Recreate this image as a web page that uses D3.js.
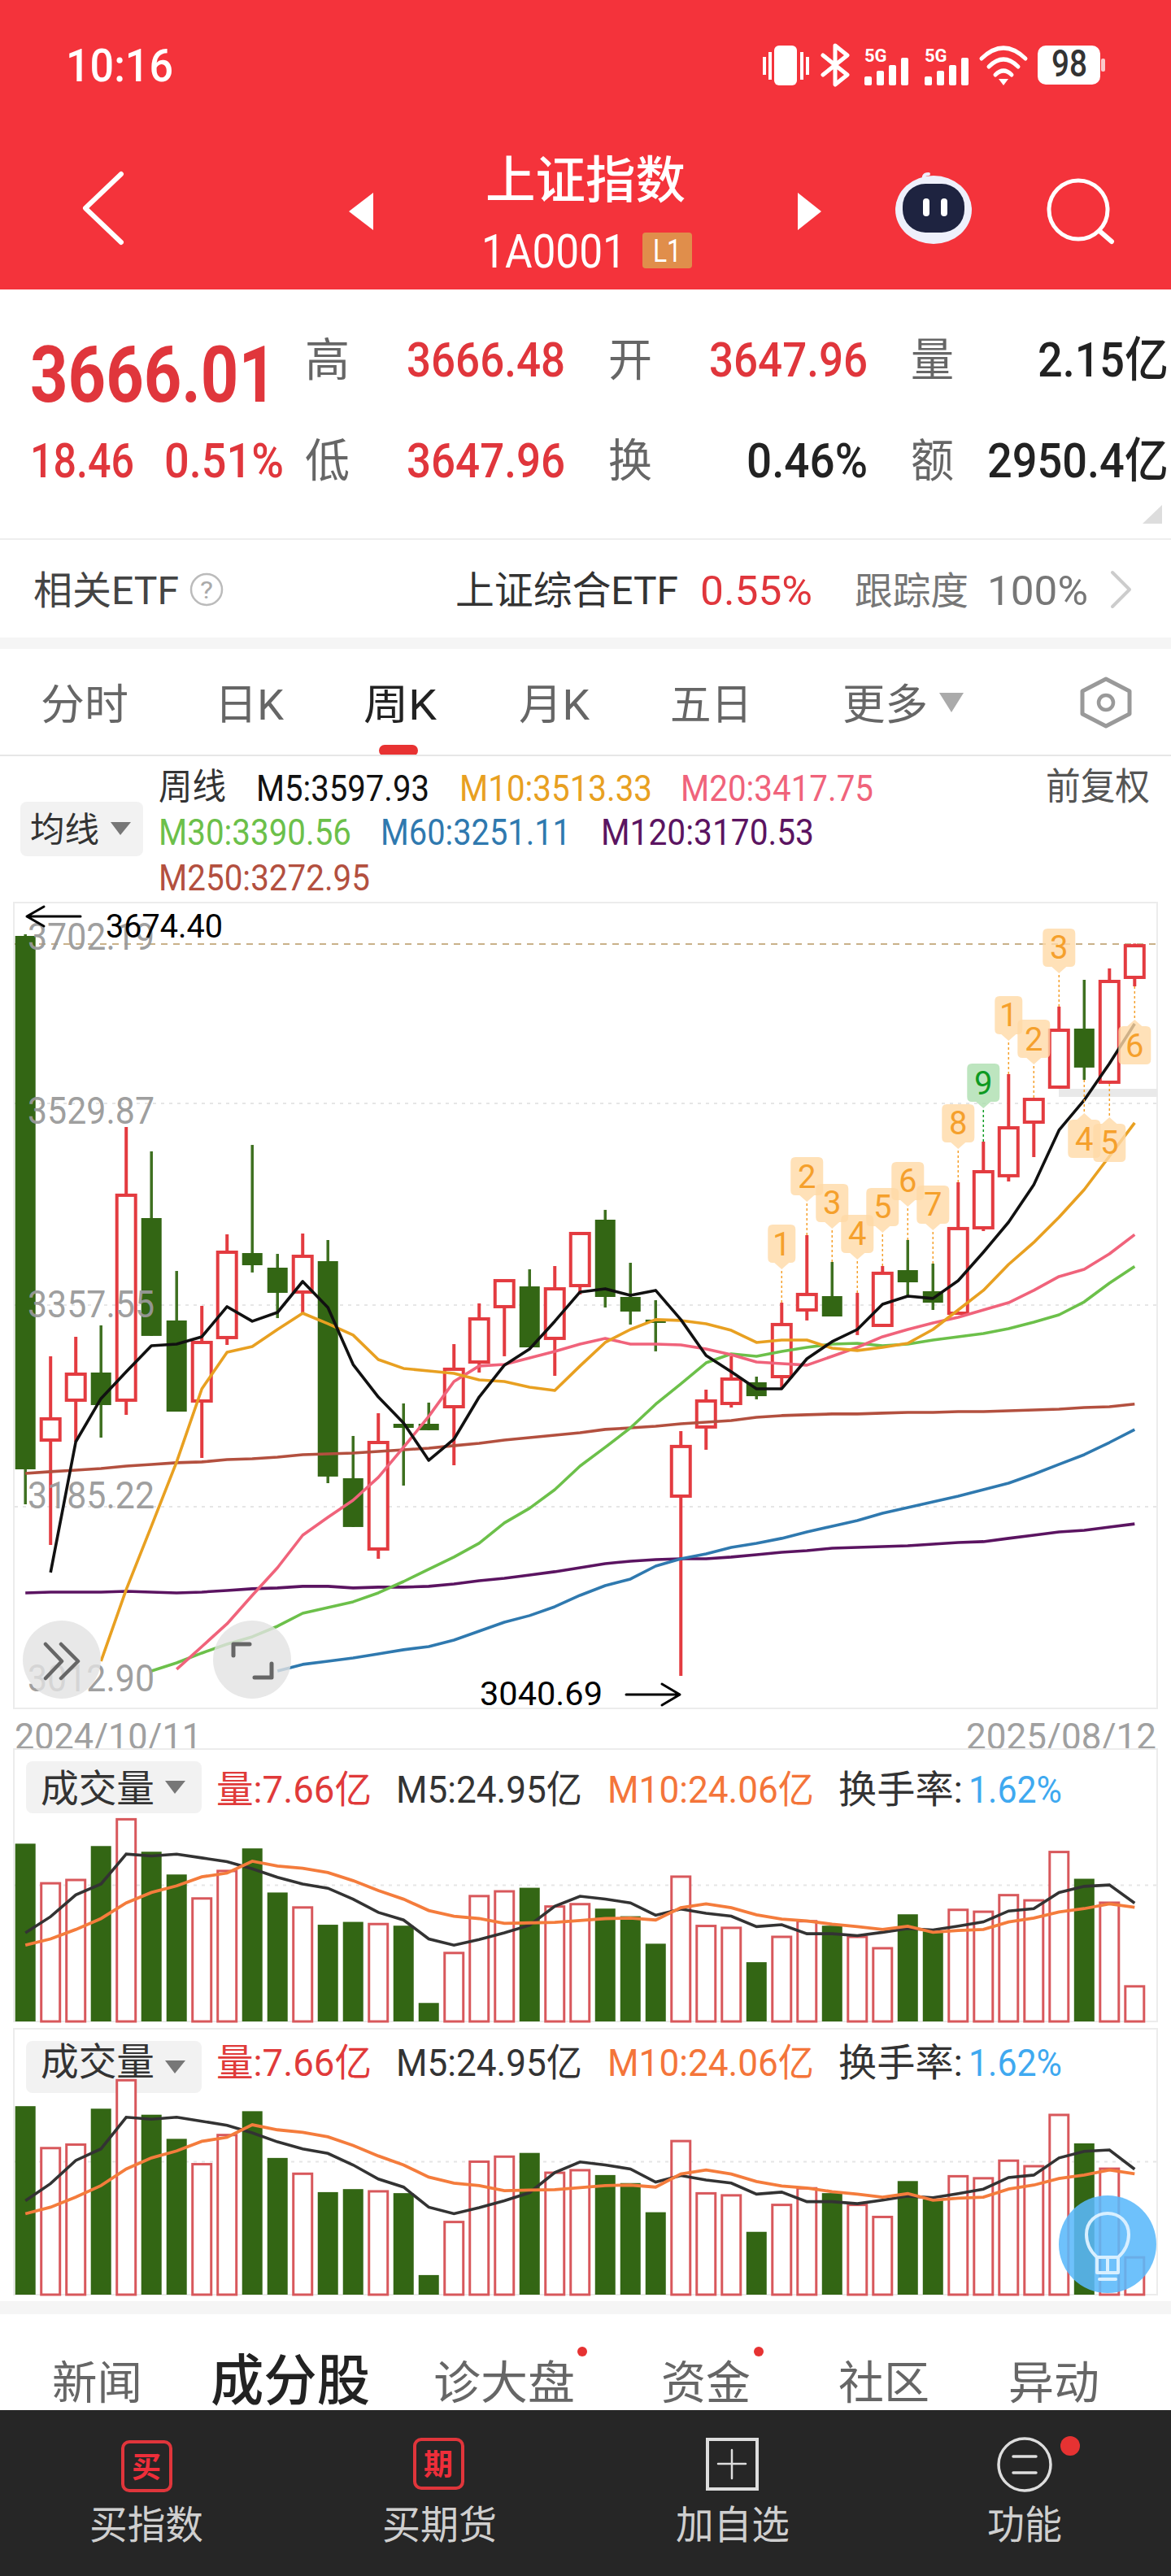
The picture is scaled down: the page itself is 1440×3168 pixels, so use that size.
<!DOCTYPE html>
<html>
<head>
<meta charset="utf-8">
<style>
  html, body { margin: 0; padding: 0; background: #fff; }
  svg { display: block; }
  text { font-family: Roboto, "Noto Sans CJK SC", sans-serif; }
</style>
<script src="https://cdn.jsdelivr.net/npm/d3@7"></script>
</head>
<body>
<div id="chart"></div>
<script>
// Weekly candles
var opens = [3673,3240.8,3274.9,3299.9,3274.9,3431.9,3344.4,3274.2,3328.4,3402,3389.5,3367.3,3395.1,3209.6,3147.7,3256.1,3256.1,3269.3,3307.5,3354.8,3373.5,3327.7,3372.8,3430.5,3364.5,3345.1,3192.9,3252,3272.1,3291.6,3295,3352,3365.2,3345.8,3338.8,3387.4,3369.4,3349.2,3422.2,3466.7,3512.5,3542.4,3593.8,3546.6,3636.2];
var closes = [3217.2,3261.7,3299.9,3272.1,3452.8,3331.2,3266.5,3327,3404.1,3391.6,3368,3400.6,3211,3167.9,3241.5,3252.6,3250.6,3304.1,3347.1,3379.8,3321.4,3372.8,3420.1,3364.5,3352,3342.3,3238.1,3277,3295.7,3279.7,3342.3,3368,3347.8,3348.5,3386.1,3377,3359.6,3424.3,3472.9,3510.4,3534.7,3593.8,3560.5,3635.5,3666.01];
var highs = [3674.4,3313.8,3330.5,3340.2,3509.7,3488.9,3386.7,3356.9,3418,3494.4,3401.3,3418.7,3413.2,3245.7,3265.2,3273.5,3274.2,3324.2,3359,3379.8,3388.1,3390.9,3420.1,3438.9,3393.7,3361.7,3249.9,3285.3,3313.8,3296.4,3359.6,3417.3,3394.4,3368,3390.9,3413.2,3393,3462.5,3497.2,3554.9,3534.7,3612.6,3635.5,3645.2,3666.48];
var lows = [3187.3,3152.6,3240.8,3244.3,3263.8,3331.2,3266.5,3226.9,3323.5,3385.4,3346.4,3350.6,3205.4,3167.9,3140.8,3203.3,3250.6,3220.7,3299.9,3313.8,3321.4,3297.1,3366.6,3355.5,3340.9,3318,3040.69,3233.9,3270,3277,3286.7,3344.4,3347.8,3331.9,3338.8,3365.9,3353.4,3349.2,3420.8,3463.2,3484,3542.4,3550,3546.6,3629.9];

// Moving averages, leading nulls where the line is not drawn
var m5 = [null,3129,3240.8,3277.7,3300.6,3322.8,3324.2,3330.5,3356.2,3343.7,3351.3,3377.7,3355.5,3306.8,3279,3256.8,3224.9,3242.9,3279,3306.2,3320,3343.7,3368.7,3371.5,3365.9,3370.1,3345.1,3314.5,3300.6,3286,3286,3311.7,3326.3,3336.7,3358.3,3365.2,3363.2,3378.4,3402.7,3428.4,3460.4,3507,3532.7,3563.9,3597.93];
var m10 = [null,null,null,3053.2,3114.4,3168.6,3223.5,3286,3317.3,3322.1,3336.7,3350.6,3341.6,3331.9,3311,3303.4,3301.3,3299.2,3293.6,3292.2,3287.4,3284.6,3305.5,3325.6,3336.7,3345.1,3344.4,3341.6,3336,3325.6,3327.7,3327.7,3320.7,3318.7,3321.4,3324.9,3336.7,3353.4,3370.1,3392.3,3411.1,3432.6,3456.2,3484.7,3513.33];
var m20 = [null,null,null,null,null,null,3046.3,3065.7,3085.2,3109.5,3133.1,3160.9,3176.2,3190.8,3210.3,3236,3262.4,3292.2,3305.5,3306.8,3312.4,3318,3324.2,3329.1,3324.2,3324.2,3323.5,3320,3315.2,3308.9,3307.5,3306.2,3313.8,3321.4,3330.5,3336.7,3342.3,3347.1,3353.4,3359.6,3370.1,3381.9,3388.1,3401.3,3417.75];
var m30 = [null,null,null,null,null,3044.9,3051.8,3060.2,3067.8,3074.1,3083.1,3094.2,3099.1,3104,3111.6,3121.3,3131.8,3142.2,3154,3171.4,3183.9,3199.8,3220,3236,3252.6,3272.8,3290.2,3308.2,3315.9,3313.8,3318,3321.4,3324.2,3324.9,3322.8,3324.2,3327.7,3330.5,3333.2,3337.4,3343,3349.2,3360.3,3376.3,3390.56];
var m60 = [null,null,null,null,null,null,null,null,null,null,3044.9,3050.5,3053.2,3056,3059.5,3063,3065.7,3071.3,3078.9,3086.6,3092.2,3099.8,3109.5,3117.8,3123.4,3134.5,3140.8,3144.9,3150.5,3154,3158.2,3163.7,3168.6,3173.4,3179.7,3184.6,3189.4,3194.3,3199.8,3205.4,3213,3221.4,3229.7,3240.1,3251.11];
var m120 = [3111.6,3112.3,3112.3,3112.3,3113,3112.3,3111.6,3112.3,3113.7,3115.1,3115.8,3117.2,3117.2,3115.8,3116.5,3116.5,3117.2,3119.2,3122,3124.1,3126.9,3129.7,3133.1,3136.6,3138.7,3140.1,3140.8,3140.8,3142.2,3144.2,3146.3,3147.7,3149.8,3150.5,3151.2,3151.9,3153.3,3154.7,3155.4,3158.2,3160.9,3163.7,3165.1,3167.9,3170.53];
var m250 = [3213.7,3215.2,3216.5,3217.9,3220,3221.4,3222.8,3223.5,3225.5,3226.2,3227.6,3229.7,3230.4,3231.1,3232.5,3233.9,3235.3,3237.4,3239.4,3242.2,3244.3,3246.4,3248.5,3251.3,3252.6,3254,3256.1,3257.5,3258.9,3261.7,3263.1,3263.8,3264.5,3264.5,3265.2,3265.8,3265.8,3266.5,3266.5,3267.2,3267.9,3268.6,3270,3270.7,3272.95];

// Volume in 亿
var volumes = [37.5,29.4,30.1,37,42.9,35.8,31,26.2,32,36.5,27.2,24.3,20.4,21,20.8,20.2,3.9,14.7,26.7,27.7,28.2,24.5,25,23.8,22.2,16.4,30.8,20.4,20,12.5,18.1,21.4,20.2,18.1,15.7,22.6,19,23.8,23.4,26.9,25.8,36,30.1,25.3,7.66];
var volM5 = [18.7,22.1,26.7,29,35.3,34.9,35.3,34.5,33.7,32.2,30.4,29,28.1,25.8,23,21.4,17.4,16.1,17.3,18.7,20.3,24.3,26.4,25.8,25,22.4,23.7,22.8,22.2,20,20.4,18.5,18.5,18.1,18.8,19.6,19.3,20.1,21,23.3,23.8,27.2,28.5,28.8,24.95];
var volM10 = [16.1,17.4,19.4,21.7,25,27.2,28.6,30.5,31.3,33.8,32.8,32.3,31.4,29.7,27.6,25.8,23.4,22.2,21.7,20.7,20.8,20.9,21.3,21.7,21.8,21.4,24,24.8,24,22.5,21.6,21.2,20.5,20,19.4,20.1,18.8,19.2,19.4,21,21.8,23.1,23.8,24.8,24.06];

// Sequence markers on the candles
var seqUp = [30,31,32,33,34,35,36,37,38,39,40,41];
var seqUpLabels = ["1","2","3","4","5","6","7","8","9","1","2","3"];
var seqDown = [42,43,44];
var seqDownLabels = ["4","5","6"];

var yTicks = [3702.19,3529.87,3357.55,3185.22,3012.90];
var yTickLabels = ["3702.19","3529.87","3357.55","3185.22","3012.90"];
var lastPrice = 3666.01;
var priceMax = 3702.19, priceMin = 3012.90;
var volMaxTop = 57.46, volMaxBottom = 52.9;
var startDate = "2024/10/11", endDate = "2025/08/12";

var RED = "#E33B40", GREEN = "#336614", HEAD = "#F4333B";
var CJK = '"Noto Sans CJK SC", sans-serif';

var svg = d3.select("#chart").append("svg").attr("width", 1440).attr("height", 3168);

// Text squeezed between two x positions, the app font is narrower than ours
function fit(g, x0, x1, base, str, size, color, weight) {
    return g.append("text")
        .attr("x", x0).attr("y", base)
        .attr("textLength", x1 - x0).attr("lengthAdjust", "spacingAndGlyphs")
        .attr("font-size", size).attr("font-weight", weight || 400)
        .attr("fill", color).text(str);
}
function rect(g, x, y, w, h, fill, r) {
    return g.append("rect").attr("x", x).attr("y", y).attr("width", w).attr("height", h)
        .attr("rx", r || 0).attr("fill", fill);
}
function path(g, d, stroke, width) {
    return g.append("path").attr("d", d).attr("fill", "none")
        .attr("stroke", stroke).attr("stroke-width", width)
        .attr("stroke-linecap", "round").attr("stroke-linejoin", "round");
}

// Make the red header
var head = svg.append("g");
rect(head, 0, 0, 1440, 356, HEAD);
fit(head, 81, 213, 100, "10:16", 56, "#fff", 500);

rect(head, 952, 56, 28, 49, "#fff", 6);
rect(head, 938, 70, 4, 22, "#fff");
rect(head, 945, 64, 4, 34, "#fff");
rect(head, 984, 64, 4, 34, "#fff");
rect(head, 991, 70, 4, 22, "#fff");
path(head, "M1012 68 L1042 92 L1027 104 L1027 56 L1042 68 L1012 92", "#fff", 5);
[[1063,"5G"],[1137,"5G"]].forEach(([x, t]) => {
    head.append("text").attr("x", x).attr("y", 76).attr("font-size", 22).attr("font-weight", 700)
        .attr("fill", "#fff").text(t);
    [0,1,2,3].forEach(k => {
        var h = [11, 18, 25, 34][k];
        rect(head, x + k * 15, 105 - h, 9, h, "#fff", 2);
    });
});
path(head, "M1207 72 Q1234 46 1261 72", "#fff", 5);
path(head, "M1216 82 Q1234 64 1252 82", "#fff", 5);
path(head, "M1224 92 Q1234 82 1244 92", "#fff", 5);
head.append("path").attr("d", "M1228 97 L1240 97 L1234 105 Z").attr("fill", "#fff");
rect(head, 1276, 56, 77, 48, "#fff", 10);
rect(head, 1354, 72, 5, 16, "#fbc9cb", 2);
fit(head, 1293, 1337, 94, "98", 46, "#333", 500);

path(head, "M149 214 L105 256 L149 298", "#fff", 6);
head.append("path").attr("d", "M459 237 L429 260 L459 283 Z").attr("fill", "#fff");
head.append("path").attr("d", "M981 237 L1010 260 L981 283 Z").attr("fill", "#fff");
fit(head, 597, 843, 244, "上证指数", 62, "#fff", 500).style("font-family", CJK);
fit(head, 592, 770, 329, "1A0001", 58, "#fff", 400);
rect(head, 790, 286, 61, 44, "#E08E4B", 4);
fit(head, 803, 838, 322, "L1", 38, "#fff", 400);

// Little robot
path(head, "M1138 226 Q1132 214 1142 214", "#eef", 4);
head.append("ellipse").attr("cx", 1148).attr("cy", 258).attr("rx", 47).attr("ry", 42).attr("fill", "#EEF0FB");
rect(head, 1110, 226, 76, 60, "#1E2340", 28);
rect(head, 1135, 244, 8, 22, "#fff", 4);
rect(head, 1157, 244, 8, 22, "#fff", 4);
head.append("circle").attr("cx", 1326).attr("cy", 258).attr("r", 36)
    .attr("fill", "none").attr("stroke", "#fff").attr("stroke-width", 5);
path(head, "M1352 284 L1367 297", "#fff", 6);

// Make the quote block
var quote = svg.append("g");
var QRED = "#E0363C", QGRAY = "#666";
fit(quote, 37, 340, 494, "3666.01", 96, QRED, 700);
fit(quote, 37, 165, 587, "18.46", 59, QRED, 500);
fit(quote, 202, 349, 587, "0.51%", 59, QRED, 500);
[[375,430,462,"高"],[748,802,462,"开"],[1120,1173,462,"量"],[375,430,586,"低"],[748,802,586,"换"],[1120,1173,586,"额"]]
    .forEach(([a, b, y, t]) => fit(quote, a, b, y, t, 56, QGRAY).style("font-family", CJK));
fit(quote, 500, 695, 463, "3666.48", 59, QRED, 500);
fit(quote, 872, 1067, 463, "3647.96", 59, QRED, 500);
fit(quote, 1276, 1437, 463, "2.15亿", 59, "#222", 500);
fit(quote, 500, 695, 587, "3647.96", 59, QRED, 500);
fit(quote, 918, 1067, 587, "0.46%", 59, "#222", 500);
fit(quote, 1214, 1437, 587, "2950.4亿", 59, "#222", 500);
quote.append("path").attr("d", "M1429 621 L1429 644 L1405 644 Z").attr("fill", "#ddd");
rect(quote, 0, 662, 1440, 2, "#eee");

// ETF row
fit(quote, 41, 220, 743, "相关ETF", 48, "#444");
quote.append("circle").attr("cx", 254).attr("cy", 725).attr("r", 19)
    .attr("fill", "none").attr("stroke", "#bbb").attr("stroke-width", 2.5);
fit(quote, 246, 262, 736, "?", 30, "#aaa");
fit(quote, 560, 834, 743, "上证综合ETF", 48, "#333");
fit(quote, 861, 999, 744, "0.55%", 50, QRED);
fit(quote, 1051, 1191, 743, "跟踪度", 47, "#777");
fit(quote, 1214, 1338, 744, "100%", 50, "#777");
path(quote, "M1368 704 L1389 725 L1368 746", "#ccc", 4);
rect(quote, 0, 784, 1440, 14, "#f5f5f5");

// Period tabs
var tabs = svg.append("g");
[[50,158,"分时","#666"],[264,349,"日K","#666"],[447,537,"周K","#222"],[638,725,"月K","#666"],[824,925,"五日","#666"],[1036,1141,"更多","#666"]]
    .forEach(([a, b, t, c]) => fit(tabs, a, b, 885, t, 52, c));
tabs.append("path").attr("d", "M1155 852 L1185 852 L1170 876 Z").attr("fill", "#aaa");
path(tabs, "M1360 835 L1389 850 L1389 878 L1360 893 L1331 878 L1331 850 Z", "#999", 5);
tabs.append("circle").attr("cx", 1360).attr("cy", 864).attr("r", 9)
    .attr("fill", "none").attr("stroke", "#999").attr("stroke-width", 4.5);
rect(tabs, 466, 916, 48, 14, "#E83232", 7);
rect(tabs, 0, 928, 1440, 2, "#e6e6e6");

// Moving average legend
var legend = svg.append("g");
fit(legend, 195, 278, 983, "周线", 44, "#333").style("font-family", CJK);
fit(legend, 315, 528, 985, "M5:" + m5[44], 45, "#111");
fit(legend, 565, 802, 985, "M10:" + m10[44], 45, "#E8A021");
fit(legend, 837, 1074, 985, "M20:" + m20[44], 45, "#F0637B");
fit(legend, 1286, 1414, 983, "前复权", 46, "#555").style("font-family", CJK);
fit(legend, 195, 432, 1039, "M30:" + m30[44], 45, "#6CC04A");
fit(legend, 468, 702, 1039, "M60:" + m60[44], 45, "#2F79AF");
fit(legend, 739, 1001, 1039, "M120:" + m120[44], 45, "#5B1461");
fit(legend, 195, 455, 1095, "M250:" + m250[44], 45, "#B3503F");
rect(legend, 25, 986, 151, 67, "#f2f2f2", 8);
fit(legend, 37, 122, 1035, "均线", 42, "#333").style("font-family", CJK);
legend.append("path").attr("d", "M136 1011 L161 1011 L148 1027 Z").attr("fill", "#777");

// Scales for the price panel
var x = d3.scalePoint().domain(d3.range(opens.length)).range([31.2, 1395.3]);
var y = d3.scaleLinear().domain([priceMin, priceMax]).range([2101, 1109]);

// Make the price frame and grid
var grid = svg.append("g");
grid.append("rect").attr("x", 17).attr("y", 1110).attr("width", 1406).attr("height", 991)
    .attr("fill", "#fff").attr("stroke", "#ececec").attr("stroke-width", 2);
yTicks.slice(1, 4).forEach(t => {
    grid.append("line").attr("x1", 18).attr("x2", 1422).attr("y1", y(t)).attr("y2", y(t))
        .attr("stroke", "#e6e6e6").attr("stroke-width", 2).attr("stroke-dasharray", "4 6");
});
grid.append("line").attr("x1", 18).attr("x2", 1422).attr("y1", y(lastPrice)).attr("y2", y(lastPrice))
    .attr("stroke", "#C9B189").attr("stroke-width", 2).attr("stroke-dasharray", "8 7");
rect(grid, 1302, 1339, 121, 10, "#e9e9e9");

// Make the candles
var candles = svg.append("g").selectAll("g").data(opens).enter().append("g");
var isUp = i => closes[i] >= opens[i];
candles.append("line")
    .attr("x1", (d, i) => x(i)).attr("x2", (d, i) => x(i))
    .attr("y1", (d, i) => y(highs[i])).attr("y2", (d, i) => y(lows[i]))
    .attr("stroke", (d, i) => isUp(i) ? RED : "#3E7020")
    .attr("stroke-width", (d, i) => isUp(i) ? 4 : 3.5);
candles.append("rect")
    .attr("x", (d, i) => x(i) - (isUp(i) ? 11.5 : 12.5))
    .attr("width", (d, i) => isUp(i) ? 23 : 25)
    .attr("y", (d, i) => y(Math.max(opens[i], closes[i])) + (isUp(i) ? 2 : 0))
    .attr("height", (d, i) => Math.abs(y(opens[i]) - y(closes[i])) - (isUp(i) ? 4 : 0))
    .attr("fill", (d, i) => isUp(i) ? "#fff" : GREEN)
    .attr("stroke", (d, i) => isUp(i) ? RED : "none")
    .attr("stroke-width", 4);

// Make the moving average lines
var line = d3.line().defined(d => d !== null).x((d, i) => x(i)).y(d => y(d));
[[m250,"#B3503F"],[m120,"#5B1461"],[m60,"#2F79AF"],[m30,"#6CC04A"],[m20,"#F0637B"],[m10,"#E8A021"],[m5,"#111"]]
    .forEach(([values, color]) => {
        svg.append("path").attr("d", line(values)).attr("fill", "none")
            .attr("stroke", color).attr("stroke-width", 3.6).attr("stroke-linejoin", "round");
    });

// Make the y labels, they do not sit on the grid lines
var tickBase = [1168, 1382, 1620, 1855, 2080];
yTicks.forEach((t, i) => {
    fit(svg, 34, 190, tickBase[i], yTickLabels[i], 46, "#999").attr("fill-opacity", 0.95);
});

// High and low callouts
var marks = svg.append("g");
path(marks, "M99 1127 L33 1127 M54 1115 L33 1127 L54 1139", "#000", 3);
fit(marks, 130, 274, 1153, d3.format(".2f")(highs[0]), 41, "#000");
fit(marks, 590, 741, 2097, d3.format(".2f")(lows[26]), 41, "#000");
path(marks, "M770 2084 L836 2084 M814 2071 L836 2084 L814 2097", "#000", 3);

// Make the sequence tags, 41 away from the candle tip
function tag(g, i, txt, isAbove, green) {
    var cx = x(i), wide = txt === "1" ? 17 : 20;
    var tip = isAbove ? y(highs[i]) - 41 : y(lows[i]) + 41;
    var dir = isAbove ? -1 : 1;
    var near = tip + dir * 8, far = tip + dir * 55;
    var fill = green ? "#ADDFAF" : "#FFD9A6", ink = green ? "#0E9A22" : "#F5A02C";
    g.append("line").attr("x1", cx).attr("x2", cx).attr("y1", isAbove ? y(highs[i]) : y(lows[i])).attr("y2", tip)
        .attr("stroke", ink).attr("stroke-width", 1.5).attr("stroke-dasharray", "3 3");
    g.append("path")
        .attr("d", `M${cx} ${tip} L${cx + 9} ${near} L${cx + wide - 6} ${near} Q${cx + wide} ${near} ${cx + wide} ${near + dir * 6}
            L${cx + wide} ${far - dir * 6} Q${cx + wide} ${far} ${cx + wide - 6} ${far} L${cx - wide + 6} ${far}
            Q${cx - wide} ${far} ${cx - wide} ${far - dir * 6} L${cx - wide} ${near + dir * 6}
            Q${cx - wide} ${near} ${cx - wide + 6} ${near} L${cx - 9} ${near} Z`)
        .attr("fill", fill).attr("fill-opacity", 0.8);
    g.append("text").attr("x", cx).attr("y", (near + far) / 2 + 14).attr("text-anchor", "middle")
        .attr("font-size", 40).attr("fill", ink).text(txt);
}
var tags = svg.append("g");
seqUp.forEach((i, k) => tag(tags, i, seqUpLabels[k], true, seqUpLabels[k] === "9"));
seqDown.forEach((i, k) => tag(tags, i, seqDownLabels[k], false, false));

// Round buttons on the chart
var btn = svg.append("g");
[76, 310].forEach(cx => {
    btn.append("ellipse").attr("cx", cx).attr("cy", 2041).attr("rx", 48).attr("ry", 48)
        .attr("fill", "#e2e2e2").attr("fill-opacity", 0.8);
});
path(btn, "M56 2022 L76 2043 L56 2064 M75 2022 L96 2043 L75 2064", "#666", 4.5);
path(btn, "M287 2036 L287 2022 L307 2022 M334 2046 L334 2063 L313 2063", "#666", 5);
fit(svg, 190, 191, 2080, "", 46, "#999");

// Dates under the chart
fit(svg, 18, 248, 2151, startDate, 44, "#a0a0a0");
fit(svg, 1188, 1422, 2151, endDate, 44, "#a0a0a0");

// Make the two volume panels, same data on its own scale
function volumePanel(top, bottom, max, boxTop, labelBase) {
    var g = svg.append("g");
    var yv = d3.scaleLinear().domain([0, max]).range([bottom, top]);
    g.append("rect").attr("x", 17).attr("y", top).attr("width", 1406).attr("height", bottom - top)
        .attr("fill", "#fff").attr("stroke", "#ececec").attr("stroke-width", 2);
    g.append("line").attr("x1", 18).attr("x2", 1422).attr("y1", yv(max / 2)).attr("y2", yv(max / 2))
        .attr("stroke", "#e6e6e6").attr("stroke-width", 2).attr("stroke-dasharray", "4 6");
    rect(g, 32, boxTop, 216, 64, "#f2f2f2", 8);
    g.selectAll(".bar").data(volumes).enter().append("rect").attr("class", "bar")
        .attr("x", (d, i) => x(i) - (isUp(i) ? 11.5 : 12.5))
        .attr("width", (d, i) => isUp(i) ? 23 : 25)
        .attr("y", (d, i) => yv(d) + (isUp(i) ? 1.5 : 0))
        .attr("height", (d, i) => bottom - yv(d) - (isUp(i) ? 1.5 : 0))
        .attr("fill", (d, i) => isUp(i) ? "#fff" : GREEN)
        .attr("stroke", (d, i) => isUp(i) ? "#D8585C" : "none")
        .attr("stroke-width", 3);
    var vline = d3.line().x((d, i) => x(i)).y(d => yv(d));
    g.append("path").attr("d", vline(volM5)).attr("fill", "none").attr("stroke", "#333").attr("stroke-width", 3.6);
    g.append("path").attr("d", vline(volM10)).attr("fill", "none").attr("stroke", "#F47C3C").attr("stroke-width", 3.8);
    fit(g, 50, 190, labelBase - 1, "成交量", 47, "#333").style("font-family", CJK);
    g.append("path").attr("d", `M203 ${boxTop + 24} L228 ${boxTop + 24} L215 ${boxTop + 40} Z`).attr("fill", "#777");
    fit(g, 266, 457, labelBase, "量:" + volumes[44] + "亿", 47, "#E03A3A");
    fit(g, 487, 716, labelBase, "M5:" + volM5[44] + "亿", 47, "#333");
    fit(g, 747, 1001, labelBase, "M10:" + volM10[44] + "亿", 47, "#F4753A");
    fit(g, 1031, 1184, labelBase, "换手率:", 47, "#333");
    fit(g, 1191, 1306, labelBase, "1.62%", 47, "#3FA9F0");
}
volumePanel(2151, 2486, volMaxTop, 2166, 2217);
volumePanel(2495, 2822, volMaxBottom, 2510, 2553);

// Bottom tabs
var lower = svg.append("g");
rect(lower, 0, 2830, 1440, 16, "#f5f5f5");
[[64,175,"新闻"],[533,707,"诊大盘"],[813,923,"资金"],[1031,1143,"社区"],[1240,1352,"异动"]]
    .forEach(([a, b, t]) => fit(lower, a, b, 2950, t, 56, "#666"));
fit(lower, 259, 455, 2952, "成分股", 68, "#222", 500);
lower.append("circle").attr("cx", 716).attr("cy", 2892).attr("r", 6).attr("fill", "#E63232");
lower.append("circle").attr("cx", 933).attr("cy", 2892).attr("r", 6).attr("fill", "#E63232");

// Dark footer bar
rect(lower, 0, 2964, 1440, 204, "#262626");
[[149,3001,"买"],[508,2998,"期"]].forEach(([bx, by, t]) => {
    lower.append("rect").attr("x", bx + 2).attr("y", by + 2).attr("width", 59).attr("height", 60).attr("rx", 8)
        .attr("fill", "none").attr("stroke", "#E0353B").attr("stroke-width", 4);
    fit(lower, bx + 13, bx + 49, by + 46, t, 36, "#EE2E3A", 700);
});
lower.append("rect").attr("x", 870).attr("y", 3000).attr("width", 61).attr("height", 61)
    .attr("fill", "none").attr("stroke", "#ddd").attr("stroke-width", 4);
path(lower, "M900 3013 L900 3048 M883 3030 L917 3030", "#ddd", 2.5);
lower.append("circle").attr("cx", 1260).attr("cy", 3031).attr("r", 32)
    .attr("fill", "none").attr("stroke", "#ddd").attr("stroke-width", 3.5);
path(lower, "M1246 3021 L1274 3021 M1246 3041 L1274 3041", "#ddd", 3.5);
lower.append("circle").attr("cx", 1316).attr("cy", 3008).attr("r", 12).attr("fill", "#E63232");
[[110,250,"买指数"],[470,611,"买期货"],[831,971,"加自选"],[1214,1306,"功能"]]
    .forEach(([a, b, t]) => fit(lower, a, b, 3122, t, 48, "#cfcfcf"));

// Floating light bulb
var bulb = svg.append("g");
bulb.append("circle").attr("cx", 1362).attr("cy", 2760).attr("r", 60).attr("fill", "#5AB8FB").attr("fill-opacity", 0.88);
path(bulb, "M1349 2776 C1340 2768 1336 2758 1336 2748 C1336 2732 1348 2722 1362 2722 C1376 2722 1388 2732 1388 2748 C1388 2758 1384 2768 1375 2776 L1375 2795 L1349 2795 Z", "#d8efff", 4);
path(bulb, "M1349 2776 L1375 2776 M1362 2776 L1362 2795 M1352 2803 L1372 2803", "#d8efff", 4);
</script>
</body>
</html>
